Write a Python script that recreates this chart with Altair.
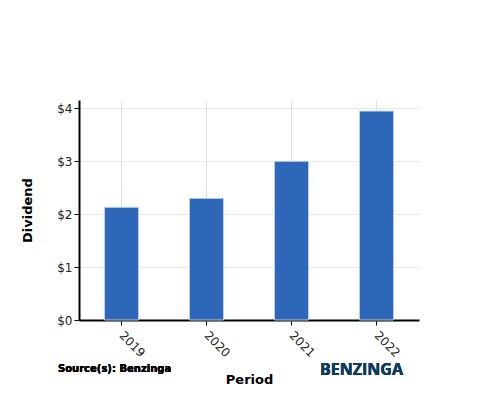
import altair as alt
import pandas as pd

periods = ["2019", "2020", "2021", "2022"]
dividends = [2.13, 2.30, 3.00, 3.95]

df = pd.DataFrame({"Period": periods, "Dividend": dividends})

bars = alt.Chart(df).mark_bar(color="#2f67b8", stroke="#b8cdec", strokeWidth=1).encode(
    x=alt.X("Period:N", sort=periods,
            scale=alt.Scale(paddingInner=0.6, paddingOuter=0.3),
            axis=alt.Axis(title="Period", labelAngle=45, labelAlign="left", labelBaseline="middle",
                          labelFontSize=12, labelColor="#222", labelPadding=8,
                          titleFontSize=13, titleFontWeight="bold", titleColor="#000",
                          titlePadding=15,
                          domainColor="#000", domainWidth=2, tickColor="#000", tickSize=5,
                          grid=True, gridColor="#d8d8d8", gridWidth=0.8)),
    y=alt.Y("Dividend:Q", scale=alt.Scale(domain=[0, 4.16], nice=False),
            axis=alt.Axis(title="Dividend", format="$.0f", values=[0, 1, 2, 3, 4],
                          labelFontSize=12, labelColor="#222",
                          titleFontSize=13, titleFontWeight="bold", titleColor="#000",
                          titlePadding=22,
                          domainColor="#000", domainWidth=2, tickColor="#000", tickSize=5,
                          grid=True, gridColor="#e3e3e3", gridWidth=0.8)),
)

source = alt.Chart(df).mark_text(text="Source(s): Benzinga", fontSize=10, fontWeight="bold",
                                 font="DejaVu Sans",
                                 align="left", baseline="middle", color="#000").encode(
    x=alt.value(-21), y=alt.value(269))
logo = alt.Chart(df).mark_text(text="BENZINGA", fontSize=16, fontWeight="bold", font="Open Sans",
                               align="left", baseline="middle", color="#0f3a5f").encode(
    x=alt.value(241), y=alt.value(270))

chart = alt.layer(bars, source, logo).properties(
    width=340, height=220,
    autosize=alt.AutoSizeParams(type="none"),
    padding={"left": 71, "top": 92, "right": 73, "bottom": 72},
).configure_view(stroke=None).configure_axis(labelFont="DejaVu Sans", titleFont="DejaVu Sans")

chart.save("out.html", embed_options={"renderer": "svg", "actions": False})
